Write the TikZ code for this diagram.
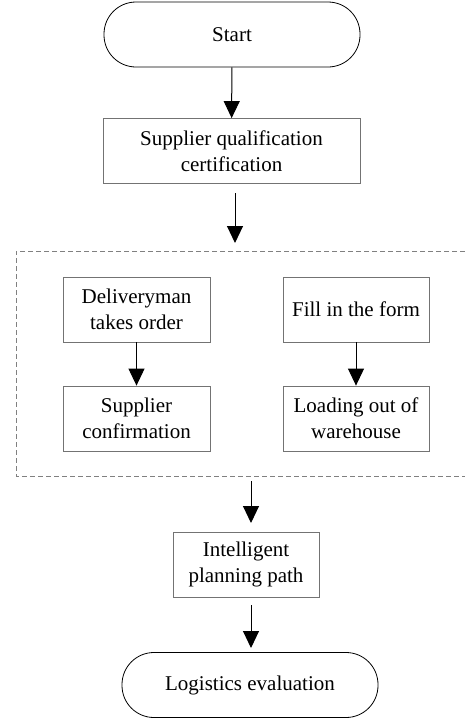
\documentclass[tikz,border=0pt]{standalone}
\usepackage{fontspec}
\setmainfont{Liberation Serif}
\usetikzlibrary{arrows.meta}

\begin{document}
\begin{tikzpicture}[x=1pt,y=-1pt,font=\fontsize{21}{26}\selectfont]

      \useasboundingbox (0,0) rectangle (465,723);

      % dashed frame, its right side lies outside the page
      \draw[gray,dashed,line width=0.8pt,dash pattern=on 5pt off 3pt]
        (465,251) -- (16,251) -- (16,476) -- (465,476);

      \begin{scope}[every node/.style={draw,thick,rounded corners=32pt,
          minimum width=256pt,minimum height=65pt,inner sep=0pt}]
        \node (start) at (232,34.5) {Start};
        \node (eval)  at (250,685)  {Logistics evaluation};
      \end{scope}

      \begin{scope}[every node/.style={draw=gray!90!black,line width=0.8pt,
          minimum height=65pt,inner sep=0pt,align=center}]
        \node[minimum width=257pt] (qual) at (231.5,151) {Supplier qualification\\certification};
        \node[minimum width=147pt] (take) at (136.5,309.5) {Deliveryman\\takes order};
        \node[minimum width=147pt] (conf) at (136.5,418.5) {Supplier\\confirmation};
        \node[minimum width=146pt] (form) at (356,309.5) {Fill in the form};
        \node[minimum width=146pt] (load) at (356,418.5) {Loading out of\\warehouse};
        \node[minimum width=146pt] (path) at (246,564.5) {Intelligent\\planning path};
      \end{scope}

      \coordinate (a1) at (235,193);
      \coordinate (a2) at (235,243);
      \coordinate (b1) at (251,481);
      \coordinate (b2) at (251,523);
      \coordinate (c1) at (251,605);
      \coordinate (c2) at (251,648);

      \begin{scope}[every edge/.style={draw,line width=1pt,
          -{Triangle[width=16pt,length=17pt]}}]
        \path (start) edge (qual);
        \path (a1)    edge (a2);
        \path (take)  edge (conf);
        \path (form)  edge (load);
        \path (b1)    edge (b2);
        \path (c1)    edge (c2);
      \end{scope}

    \end{tikzpicture}
\end{document}
